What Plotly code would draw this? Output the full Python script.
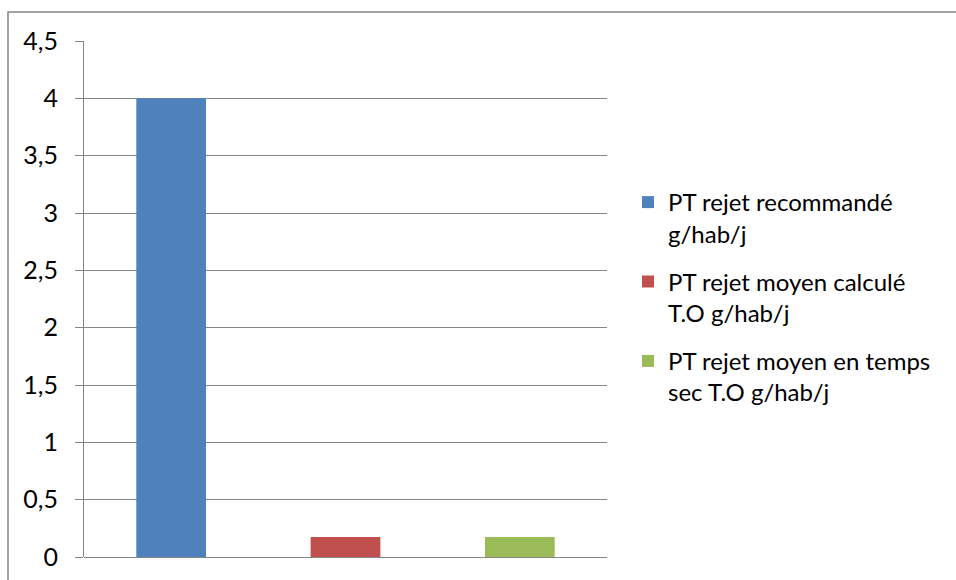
import plotly.graph_objects as go

# Phosphore total (PT) : rejets journaliers par habitant
series_names = [
    "PT rejet recommandé<br>g/hab/j",
    "PT rejet moyen calculé<br>T.O g/hab/j",
    "PT rejet moyen en temps<br>sec T.O g/hab/j",
]
categories = ["c1", "c2", "c3"]
values = [4.0, 0.175, 0.175]
colors = ["#4F81BD", "#C0504D", "#9BBB59"]

y_ticks = [0, 0.5, 1, 1.5, 2, 2.5, 3, 3.5, 4, 4.5]

fig = go.Figure()
for name, cat, val, col in zip(series_names, categories, values, colors):
    fig.add_trace(go.Bar(
        x=[cat], y=[val], name=name,
        marker=dict(color=col, line=dict(width=0)),
        legendgroup=name,
    ))

W, H = 956, 580
L, R, T, B = 84, 349, 41, 23
pw, ph = W - L - R, H - T - B

fig.update_layout(
    width=W, height=H,
    margin=dict(l=L, r=R, t=T, b=B, autoexpand=False),
    paper_bgcolor="white", plot_bgcolor="white",
    separators=",.",
    barmode="overlay",
    bargap=0.6,
    font=dict(family="Lato, 'Open Sans', sans-serif", size=22, color="#000000"),
    showlegend=True,
    legend=dict(
        x=1 + (628 - 607) / pw, y=1 - (180 - T) / ph, xanchor="left", yanchor="top",
        font=dict(size=24), traceorder="grouped", tracegroupgap=14,
        itemwidth=30, valign="top", bgcolor="rgba(0,0,0,0)",
    ),
    xaxis=dict(
        showticklabels=False, showgrid=False, zeroline=False,
        showline=False, ticks="", automargin=False,
        categoryorder="array", categoryarray=categories,
    ),
    yaxis=dict(
        range=[0, 4.5], tickvals=y_ticks, automargin=False,
        ticktext=[f"{v:g}".replace(".", ",") for v in y_ticks],
        tickfont=dict(size=25),
        showgrid=True, gridcolor="#868686", gridwidth=1,
        zeroline=True, zerolinecolor="#868686", zerolinewidth=1,
        showline=True, linecolor="#868686", linewidth=1,
        ticks="outside", ticklen=8, tickcolor="#868686",
        ticklabelstandoff=12,
    ),
    shapes=[dict(
        type="rect", xref="paper", yref="paper",
        x0=(8 - L) / pw, x1=(1000 - L) / pw,
        y0=-(40) / ph, y1=1 + (T - 12) / ph,
        line=dict(color="#868686", width=1.5), fillcolor="rgba(0,0,0,0)",
        layer="below",
    )],
)

fig.write_html("out.html")
